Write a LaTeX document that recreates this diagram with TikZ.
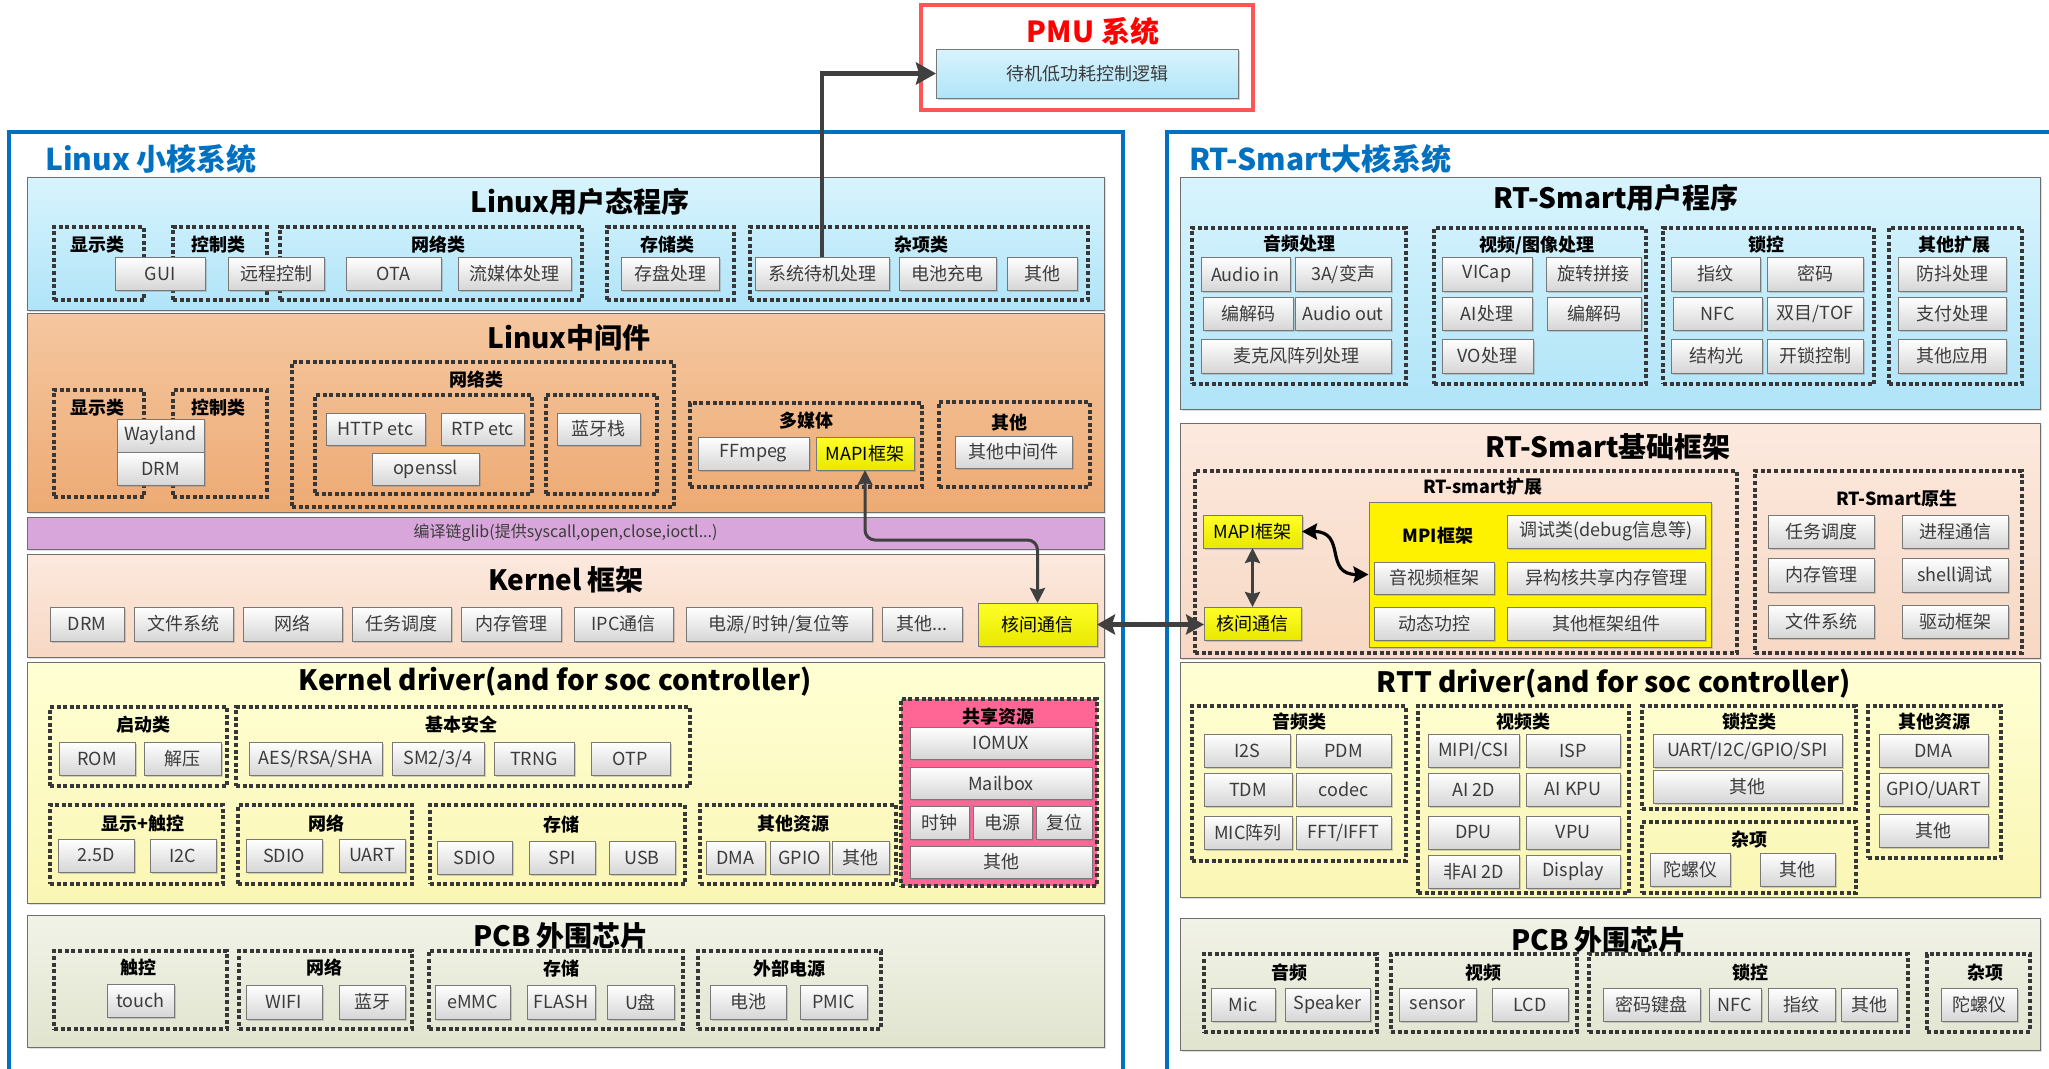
\documentclass[tikz,border=0pt]{standalone}
\usepackage{fontspec}
\setmainfont{Noto Sans CJK SC}
\usetikzlibrary{arrows.meta,shadows}
\definecolor{framec}{RGB}{0,112,192}
\definecolor{userT}{RGB}{216,244,253}
\definecolor{userB}{RGB}{176,228,248}
\definecolor{midT}{RGB}{245,199,160}
\definecolor{midB}{RGB}{237,170,115}
\definecolor{glibc}{RGB}{216,166,218}
\definecolor{kfwT}{RGB}{252,233,222}
\definecolor{kfwB}{RGB}{247,216,196}
\definecolor{drvT}{RGB}{255,255,212}
\definecolor{drvB}{RGB}{250,246,180}
\definecolor{pcbT}{RGB}{242,243,232}
\definecolor{pcbB}{RGB}{224,228,206}
\definecolor{boxbot}{RGB}{214,214,214}
\definecolor{bordc}{RGB}{120,120,120}
\definecolor{txtc}{RGB}{60,60,60}
\definecolor{grpc}{RGB}{55,55,55}
\definecolor{laybord}{RGB}{110,110,110}
\definecolor{yel1}{RGB}{255,255,40}
\definecolor{yel2}{RGB}{232,232,0}
\definecolor{pinkc}{RGB}{255,102,150}
\definecolor{pmured}{RGB}{255,85,85}
\definecolor{arrc}{RGB}{64,64,64}
\newcommand\fsz[1]{\fontsize{#1}{#1}\selectfont}
\newcommand\nd[7][]{\node[#1,minimum width={#5-#3},minimum height={#6-#4}] (#2) at ({(#3+#5)/2},{(#4+#6)/2}) {#7};}
\tikzset{
  box/.style={draw=bordc,line width=0.9pt,top color=white,bottom color=boxbot,text=txtc,font=\fsz{18},inner sep=0pt,outer sep=0pt,drop shadow={shadow xshift=1.6pt,shadow yshift=-1.6pt,opacity=.35}},
  ybox/.style={box,top color=yel1,bottom color=yel2,text=black},
  grp/.style={draw=grpc,line width=3.6pt,dash pattern=on 4pt off 2.6pt,inner sep=0pt,outer sep=0pt},
  lbl/.style={font=\bfseries\fsz{18},text=black,inner sep=0pt},
  layer/.style={draw=laybord,line width=1pt,inner sep=0pt,outer sep=0pt,drop shadow={shadow xshift=2pt,shadow yshift=-2pt,opacity=.25}},
  ltitle/.style={font=\bfseries\fsz{28},text=black,inner sep=0pt},
  ftitle/.style={font=\bfseries\fsz{30},text=framec,inner sep=0pt},
  frame/.style={draw=framec,line width=4.5pt,inner sep=0pt},
  arr/.style={draw=arrc,line width=4.5pt,-{Stealth[length=20pt,width=22pt,inset=3pt]}},
  darr/.style={draw=arrc,line width=4.5pt,{Stealth[length=18pt,width=20pt,inset=3pt]}-{Stealth[length=18pt,width=20pt,inset=3pt]}},
  darr2/.style={draw=arrc,line width=3pt,{Stealth[length=15pt,width=15pt,inset=2pt]}-{Stealth[length=15pt,width=15pt,inset=2pt]}},
  carr/.style={draw=black,line width=3.2pt,{Stealth[length=15pt,width=16pt,inset=2pt]}-{Stealth[length=15pt,width=16pt,inset=2pt]}},
}
\begin{document}
\begin{tikzpicture}[x=1pt,y=-1pt]
\useasboundingbox (0,0) rectangle (2049,1068);
\clip (0,0) rectangle (2049,1068);
\fill[white] (0,0) rectangle (2049,1068);
% ---------------- frames
\nd[frame]{lframe}{9}{132}{1123}{1110}{}
\nd[frame]{rframe}{1167}{132}{2080}{1110}{}
\node[ftitle,anchor=west] (lft) at (45,159) {Linux 小核系统};
\node[ftitle,anchor=west] (rft) at (1189,159) {RT-Smart大核系统};
% ---------------- PMU
\nd[draw=pmured,line width=4pt,fill=white,inner sep=0pt]{pmu}{921}{5}{1253}{110}{}
\node[font=\bfseries\fsz{29},text=red,inner sep=0pt] (pmut) at (1093,31) {PMU 系统};
\nd[box,top color=userT,bottom color=userB]{pmub}{936}{49}{1238}{98}{待机低功耗控制逻辑}
% ---------------- Linux user
\nd[layer,top color=userT,bottom color=userB]{luser}{27}{177}{1104}{310}{}
\node[ltitle] (tluser) at (580,202) {Linux用户态程序};
\nd[grp]{gu1}{54}{227}{144}{300}{}
\nd[grp]{gu2}{173}{227}{267}{300}{}
\nd[grp]{gu3}{280}{227}{582}{300}{}
\nd[grp]{gu4}{607}{227}{734}{300}{}
\nd[grp]{gu5}{750}{227}{1088}{300}{}
\node[lbl] (lu1) at (97,245) {显示类};
\node[lbl] (lu2) at (218,245) {控制类};
\node[lbl] (lu3) at (438,245) {网络类};
\node[lbl] (lu4) at (667,245) {存储类};
\node[lbl] (lu5) at (921,245) {杂项类};
\nd[box]{ugui}{115}{257}{205}{290}{GUI}
\nd[box]{urc}{228}{257}{324}{290}{远程控制}
\nd[box]{uota}{346}{257}{441}{290}{OTA}
\nd[box]{ustream}{458}{257}{571}{290}{流媒体处理}
\nd[box]{udisk}{621}{257}{719}{290}{存盘处理}
\nd[box]{usys}{755}{257}{889}{290}{系统待机处理}
\nd[box]{ubat}{899}{257}{996}{290}{电池充电}
\nd[box]{uoth}{1007}{257}{1077}{290}{其他}
% ---------------- Linux middleware
\nd[layer,top color=midT,bottom color=midB]{lmid}{27}{313}{1104}{512}{}
\node[ltitle] (tlmid) at (569,338) {Linux中间件};
\nd[grp]{gm1}{54}{390}{144}{497}{}
\nd[grp]{gm2}{173}{390}{267}{497}{}
\node[lbl] (lm1) at (97,408) {显示类};
\node[lbl] (lm2) at (218,408) {控制类};
\nd[box]{mway}{117}{419}{204}{452}{Wayland}
\nd[box]{mdrm}{117}{452}{204}{485}{DRM}
\nd[grp]{gm3}{292}{362}{674}{507}{}
\node[lbl] (lm3) at (476,380) {网络类};
\nd[grp]{gm3a}{315}{395}{532}{494}{}
\nd[grp]{gm3b}{546}{395}{657}{494}{}
\nd[box]{mhttp}{326}{413}{425}{445}{HTTP etc}
\nd[box]{mrtp}{441}{413}{524}{445}{RTP etc}
\nd[box]{mssl}{372}{453}{479}{485}{openssl}
\nd[box]{mbt}{557}{413}{640}{445}{蓝牙栈}
\nd[grp]{gm4}{690}{403}{922}{487}{}
\node[lbl] (lm4) at (806,421) {多媒体};
\nd[box]{mff}{698}{437}{809}{470}{FFmpeg}
\nd[ybox]{lmapi}{816}{437}{914}{470}{MAPI框架}
\nd[grp]{gm5}{939}{402}{1090}{487}{}
\node[lbl] (lm5) at (1009,423) {其他};
\nd[box]{mother}{955}{436}{1072}{468}{其他中间件}
% ---------------- glib
\nd[layer,fill=glibc,font=\fsz{16},text=txtc]{glib}{27}{517}{1104}{549}{编译链glib(提供syscall,open,close,ioctl...)}
% ---------------- Kernel framework
\nd[layer,top color=kfwT,bottom color=kfwB]{kfw}{27}{554}{1104}{657}{}
\node[ltitle] (tkfw) at (566,580) {Kernel 框架};
\nd[box]{kdrm}{50}{607}{124}{641}{DRM}
\nd[box]{kfs}{134}{607}{233}{641}{文件系统}
\nd[box]{knet}{243}{607}{342}{641}{网络}
\nd[box]{ksch}{352}{607}{451}{641}{任务调度}
\nd[box]{kmem}{461}{607}{561}{641}{内存管理}
\nd[box]{kipc}{574}{607}{673}{641}{IPC通信}
\nd[box]{kpwr}{686}{607}{872}{641}{电源/时钟/复位等}
\nd[box]{koth}{882}{607}{962}{641}{其他...}
\nd[ybox]{lipc}{978}{603}{1097}{646}{核间通信}
% ---------------- Kernel driver
\nd[layer,top color=drvT,bottom color=drvB]{kdrv}{27}{662}{1104}{903}{}
\node[ltitle] (tkdrv) at (555,682) {Kernel driver(and for soc controller)};
\nd[grp]{gd1}{50}{707}{227}{786}{}
\nd[grp]{gd2}{236}{707}{690}{786}{}
\node[lbl] (ld1) at (143,725) {启动类};
\node[lbl] (ld2) at (461,725) {基本安全};
\nd[box]{drom}{59}{742}{135}{775}{ROM}
\nd[box]{dunz}{144}{742}{221}{775}{解压}
\nd[box]{daes}{249}{742}{382}{775}{AES/RSA/SHA}
\nd[box]{dsm}{392}{742}{484}{775}{SM2/3/4}
\nd[box]{dtrng}{494}{742}{574}{775}{TRNG}
\nd[box]{dotp}{591}{742}{670}{775}{OTP}
\nd[grp]{gd3}{50}{805}{223}{884}{}
\nd[grp]{gd4}{238}{805}{412}{884}{}
\nd[grp]{gd5}{430}{805}{685}{884}{}
\nd[grp]{gd6}{700}{805}{896}{884}{}
\node[lbl] (ld3) at (143,824) {显示+触控};
\node[lbl] (ld4) at (326,824) {网络};
\node[lbl] (ld5) at (561,825) {存储};
\node[lbl] (ld6) at (793,824) {其他资源};
\nd[box]{d25d}{58}{839}{134}{872}{2.5D}
\nd[box]{di2c}{150}{839}{216}{872}{I2C}
\nd[box]{dsdio}{246}{839}{322}{872}{SDIO}
\nd[box]{duart}{339}{839}{405}{872}{UART}
\nd[box]{dsdio2}{437}{841}{512}{874}{SDIO}
\nd[box]{dspi}{529}{841}{595}{874}{SPI}
\nd[box]{dusb}{609}{841}{675}{874}{USB}
\nd[box]{ddma}{706}{841}{765}{874}{DMA}
\nd[box]{dgpio}{770}{841}{829}{874}{GPIO}
\nd[box]{doth}{832}{841}{889}{874}{其他}
\nd[grp,fill=pinkc]{gshare}{901}{699}{1097}{886}{}
\node[lbl] (lshare) at (998,717) {共享资源};
\nd[box]{siomux}{910}{727}{1092}{759}{IOMUX}
\nd[box]{smail}{910}{767}{1092}{799}{Mailbox}
\nd[box]{sclk}{910}{806}{969}{839}{时钟}
\nd[box]{spwr}{973}{806}{1032}{839}{电源}
\nd[box]{srst}{1036}{806}{1092}{839}{复位}
\nd[box]{soth}{910}{846}{1092}{878}{其他}
% ---------------- Linux PCB
\nd[layer,top color=pcbT,bottom color=pcbB]{lpcb}{27}{915}{1104}{1047}{}
\node[ltitle] (tlpcb) at (561,936) {PCB 外围芯片};
\nd[grp]{gp1}{54}{951}{227}{1029}{}
\nd[grp]{gp2}{239}{951}{412}{1029}{}
\nd[grp]{gp3}{429}{951}{683}{1029}{}
\nd[grp]{gp4}{698}{951}{881}{1029}{}
\node[lbl] (lp1) at (138,968) {触控};
\node[lbl] (lp2) at (324,968) {网络};
\node[lbl] (lp3) at (561,969) {存储};
\node[lbl] (lp4) at (789,969) {外部电源};
\nd[box]{ptouch}{107}{984}{174}{1017}{touch}
\nd[box]{pwifi}{246}{985}{322}{1019}{WIFI}
\nd[box]{pbt}{339}{985}{405}{1019}{蓝牙}
\nd[box]{pemmc}{435}{985}{510}{1019}{eMMC}
\nd[box]{pflash}{527}{985}{595}{1019}{FLASH}
\nd[box]{pudisk}{607}{985}{674}{1019}{U盘}
\nd[box]{pbat}{710}{985}{786}{1019}{电池}
\nd[box]{ppmic}{800}{985}{867}{1019}{PMIC}
% ---------------- RT user
\nd[layer,top color=userT,bottom color=userB]{ruser}{1180}{177}{2040}{409}{}
\node[ltitle] (truser) at (1616,198) {RT-Smart用户程序};
\nd[grp]{gr1}{1192}{228}{1406}{384}{}
\nd[grp]{gr2}{1434}{228}{1646}{384}{}
\nd[grp]{gr3}{1663}{228}{1874}{384}{}
\nd[grp]{gr4}{1889}{228}{2022}{384}{}
\node[lbl] (lr1) at (1299,244) {音频处理};
\node[lbl] (lr2) at (1537,245) {视频/图像处理};
\node[lbl] (lr3) at (1766,245) {锁控};
\node[lbl] (lr4) at (1954,245) {其他扩展};
\nd[box]{rain}{1201}{257}{1290}{291}{Audio in}
\nd[box]{r3a}{1295}{257}{1391}{291}{3A/变声}
\nd[box]{rcodec}{1203}{297}{1293}{330}{编解码}
\nd[box]{raout}{1295}{297}{1391}{330}{Audio out}
\nd[box]{rmic}{1201}{339}{1391}{373}{麦克风阵列处理}
\nd[box]{rvicap}{1442}{257}{1532}{291}{VICap}
\nd[box]{rrot}{1546}{257}{1641}{291}{旋转拼接}
\nd[box]{rai}{1442}{297}{1532}{330}{AI处理}
\nd[box]{rcodec2}{1547}{297}{1641}{330}{编解码}
\nd[box]{rvo}{1442}{339}{1533}{373}{VO处理}
\nd[box]{rfp}{1671}{257}{1760}{291}{指纹}
\nd[box]{rpwd}{1767}{257}{1863}{291}{密码}
\nd[box]{rnfc}{1673}{297}{1762}{330}{NFC}
\nd[box]{rtof}{1767}{297}{1863}{330}{双目/TOF}
\nd[box]{rsl}{1671}{339}{1762}{373}{结构光}
\nd[box]{runl}{1767}{339}{1863}{373}{开锁控制}
\nd[box]{ranti}{1898}{257}{2006}{291}{防抖处理}
\nd[box]{rpay}{1898}{297}{2006}{330}{支付处理}
\nd[box]{rapp}{1898}{339}{2006}{373}{其他应用}
% ---------------- RT framework
\nd[layer,top color=kfwT,bottom color=kfwB]{rfw}{1180}{423}{2040}{658}{}
\node[ltitle] (trfw) at (1608,447) {RT-Smart基础框架};
\nd[grp]{gf1}{1195}{471}{1737}{653}{}
\node[lbl] (lf1) at (1483,487) {RT-smart扩展};
\nd[ybox]{rmapi}{1203}{515}{1302}{548}{MAPI框架}
\nd[ybox]{ripc}{1204}{607}{1301}{640}{核间通信}
\nd[draw=bordc,line width=1pt,fill=yellow,inner sep=0pt,drop shadow={shadow xshift=2pt,shadow yshift=-2pt,opacity=.3}]{mpi}{1369}{502}{1711}{647}{}
\node[lbl] (lmpi) at (1438,536) {MPI框架};
\nd[box]{fdbg}{1507}{515}{1705}{548}{调试类(debug信息等)}
\nd[box]{fav}{1374}{562}{1494}{594}{音视频框架}
\nd[box]{fshm}{1507}{562}{1705}{594}{异构核共享内存管理}
\nd[box]{fdpm}{1374}{607}{1494}{640}{动态功控}
\nd[box]{foth}{1507}{607}{1705}{640}{其他框架组件}
\nd[grp]{gf2}{1755}{471}{2022}{653}{}
\node[lbl] (lf2) at (1897,499) {RT-Smart原生};
\nd[box]{nsch}{1768}{515}{1874}{548}{任务调度}
\nd[box]{nipc}{1902}{515}{2008}{548}{进程通信}
\nd[box]{nmem}{1768}{558}{1874}{592}{内存管理}
\nd[box]{nsh}{1902}{558}{2008}{592}{shell调试}
\nd[box]{nfs}{1768}{605}{1874}{638}{文件系统}
\nd[box]{ndrv}{1902}{605}{2008}{638}{驱动框架}
% ---------------- RTT driver
\nd[layer,top color=drvT,bottom color=drvB]{rdrv}{1180}{662}{2040}{897}{}
\node[ltitle] (trdrv) at (1614,684) {RTT driver(and for soc controller)};
\nd[grp]{gt1}{1192}{706}{1406}{861}{}
\nd[grp]{gt2}{1418}{706}{1629}{893}{}
\nd[grp]{gt3}{1642}{706}{1856}{809}{}
\nd[grp]{gt4}{1642}{822}{1856}{893}{}
\nd[grp]{gt5}{1868}{706}{2001}{858}{}
\node[lbl] (lt1) at (1299,722) {音频类};
\node[lbl] (lt2) at (1523,722) {视频类};
\node[lbl] (lt3) at (1749,722) {锁控类};
\node[lbl] (lt4) at (1749,840) {杂项};
\nd[box]{ti2s}{1204}{734}{1290}{767}{I2S}
\nd[box]{tpdm}{1296}{734}{1391}{767}{PDM}
\nd[box]{ttdm}{1204}{773}{1292}{806}{TDM}
\nd[box]{tcodec}{1296}{773}{1391}{806}{codec}
\nd[box]{tmic}{1204}{816}{1292}{849}{MIC阵列}
\nd[box]{tfft}{1296}{816}{1391}{849}{FFT/IFFT}
\nd[box]{tmipi}{1428}{734}{1519}{767}{MIPI/CSI}
\nd[box]{tisp}{1526}{734}{1620}{767}{ISP}
\nd[box]{tai2d}{1428}{773}{1519}{806}{AI 2D}
\nd[box]{tkpu}{1526}{773}{1620}{806}{AI KPU}
\nd[box]{tdpu}{1428}{816}{1519}{849}{DPU}
\nd[box]{tvpu}{1526}{816}{1620}{849}{VPU}
\nd[box]{tnai}{1428}{855}{1519}{888}{非AI 2D}
\nd[box]{tdisp}{1526}{855}{1620}{888}{Display}
\nd[box]{tuart}{1653}{734}{1842}{767}{UART/I2C/GPIO/SPI}
\nd[box]{tloth}{1653}{770}{1842}{803}{其他}
\nd[box]{tgyro}{1650}{853}{1730}{886}{陀螺仪}
\nd[box]{tmoth}{1760}{853}{1835}{886}{其他}
\node[lbl] (lt5) at (1934,722) {其他资源};
\nd[box]{tdma}{1879}{734}{1988}{767}{DMA}
\nd[box]{tgpio}{1879}{773}{1988}{806}{GPIO/UART}
\nd[box]{toth}{1879}{814}{1988}{847}{其他}
% ---------------- RT PCB
\nd[layer,top color=pcbT,bottom color=pcbB]{rpcb}{1180}{918}{2040}{1050}{}
\node[ltitle] (trpcb) at (1599,940) {PCB 外围芯片};
\nd[grp]{gq1}{1204}{954}{1377}{1032}{}
\nd[grp]{gq2}{1391}{954}{1577}{1032}{}
\nd[grp]{gq3}{1589}{954}{1908}{1032}{}
\nd[grp]{gq4}{1927}{954}{2030}{1032}{}
\node[lbl] (lq1) at (1289,973) {音频};
\node[lbl] (lq2) at (1483,973) {视频};
\node[lbl] (lq3) at (1750,973) {锁控};
\node[lbl] (lq4) at (1985,973) {杂项};
\nd[box]{qmic}{1211}{988}{1275}{1021}{Mic}
\nd[box]{qspk}{1285}{988}{1370}{1021}{Speaker}
\nd[box]{qsen}{1399}{988}{1476}{1021}{sensor}
\nd[box]{qlcd}{1492}{988}{1568}{1021}{LCD}
\nd[box]{qkey}{1603}{988}{1700}{1021}{密码键盘}
\nd[box]{qnfc}{1709}{988}{1761}{1021}{NFC}
\nd[box]{qfp}{1768}{988}{1835}{1021}{指纹}
\nd[box]{qoth}{1841}{988}{1897}{1021}{其他}
\nd[box]{qgyro}{1941}{988}{2017}{1021}{陀螺仪}
% ---------------- connectors
\draw[arr] (usys.north) |- (pmub.west);
\draw[darr2,rounded corners=10pt] (lmapi.south) -- ++(0,70) -| (lipc.north);
\draw[darr] (lipc.east) -- (lipc.east -| ripc.west);
\draw[darr2] (rmapi.south) -- (ripc.north);
\draw[carr] (rmapi.east) .. controls +(45,0) and +(-45,0) .. (mpi.west);
\end{tikzpicture}
\end{document}
